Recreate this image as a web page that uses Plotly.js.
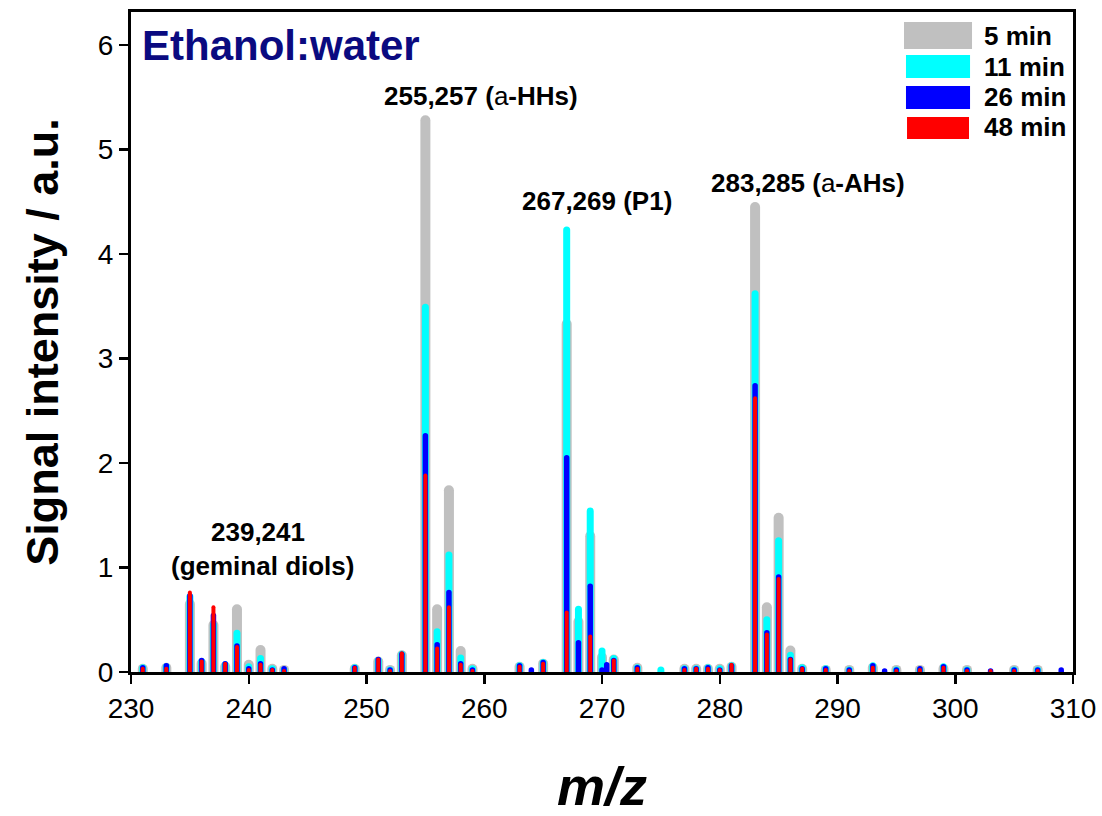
<!DOCTYPE html>
<html>
<head>
<meta charset="utf-8">
<script src="https://cdn.plot.ly/plotly-3.0.1.min.js"></script>
<style>
  html, body { margin: 0; padding: 0; background: #fff; }
  #chart { width: 1102px; height: 816px; }
  .js-line { stroke-linecap: round; }
</style>
</head>
<body>
<div id="chart"></div>
<script>
// m/z positions
const mz = [231, 233, 235, 236, 237, 238, 239, 240, 241, 242, 243,
            249, 251, 252, 253, 255, 256, 257, 258, 259,
            263, 264, 265, 267, 268, 269, 270, 270.4, 271, 273, 275,
            277, 278, 279, 280, 281, 283, 284, 285, 286, 287, 289,
            291, 293, 294, 295, 297, 299, 301, 303, 305, 307, 309];

// signal intensities (a.u.) per reaction time
const min5  = [0.03, 0.04, 0.65, 0.08, 0.45, 0.05, 0.60, 0.07, 0.21, 0.03, 0.02,
               0.03, 0.10, 0.02, 0.16, 5.28, 0.60, 1.74, 0.20, 0.03,
               0.05, 0, 0.08, 3.33, 0.48, 1.30, 0.14, 0, 0.12, 0.04, 0,
               0.03, 0.03, 0.03, 0.03, 0.05, 4.45, 0.62, 1.475, 0.205, 0.03, 0.02,
               0.02, 0.04, 0, 0.02, 0.02, 0.03, 0.02, 0, 0.02, 0.02, 0];
const min11 = [0.04, 0.05, 0.72, 0.10, 0.45, 0.07, 0.37, 0.05, 0.13, 0.03, 0.02,
               0.04, 0.11, 0.02, 0.17, 3.49, 0.385, 1.12, 0.135, 0.03,
               0.06, 0, 0.09, 4.23, 0.60, 1.54, 0.20, 0, 0.13, 0.04, 0.02,
               0.03, 0.03, 0.04, 0.03, 0.06, 3.62, 0.50, 1.255, 0.16, 0.04, 0.03,
               0.02, 0.06, 0, 0.02, 0.02, 0.05, 0.02, 0, 0.02, 0.02, 0];
const min26 = [0.04, 0.06, 0.73, 0.11, 0.54, 0.08, 0.25, 0.03, 0.08, 0.02, 0.03,
               0.04, 0.12, 0.02, 0.17, 2.26, 0.26, 0.76, 0.08, 0.02,
               0.06, 0.02, 0.09, 2.05, 0.28, 0.82, 0.02, 0.07, 0.11, 0.04, 0,
               0.03, 0.03, 0.04, 0.02, 0.06, 2.74, 0.375, 0.91, 0.12, 0.03, 0.03,
               0.02, 0.06, 0.01, 0.02, 0.03, 0.05, 0.02, 0.01, 0.02, 0.02, 0.02];
const min48 = [0.03, 0.03, 0.76, 0.10, 0.62, 0.08, 0.24, 0.02, 0.07, 0.02, 0.01,
               0.04, 0.12, 0.01, 0.18, 1.88, 0.225, 0.62, 0.07, 0.01,
               0.05, 0, 0.08, 0.57, 0, 0.34, 0, 0, 0.11, 0.03, 0,
               0.02, 0.03, 0.03, 0.02, 0.07, 2.62, 0.36, 0.89, 0.12, 0.03, 0.02,
               0.01, 0.04, 0, 0.01, 0.02, 0.04, 0.01, 0.01, 0.01, 0.01, 0];

const seriesNames  = ['5 min', '11 min', '26 min', '48 min'];
const seriesValues = [min5, min11, min26, min48];
const seriesColors = ['#c0c0c0', '#00ffff', '#0000ff', '#ff0000'];
const seriesWidths = [10, 7, 5.5, 4];

// peak labels
const peakLabels = [
  {x: 259.7, y: 5.51, text: '<b>255,257 (</b>a<b>-HHs)</b>'},
  {x: 269.6, y: 4.51, text: '<b>267,269 (P1)</b>'},
  {x: 287.5, y: 4.68, text: '<b>283,285 (</b>a<b>-AHs)</b>'},
  {x: 240.8, y: 1.34, text: '<b>239,241</b>'},
  {x: 241.2, y: 1.01, text: '<b>(geminal diols)</b>'}
];

const FONT = 'Liberation Sans, Arial, sans-serif';

const traces = seriesValues.map((vals, i) => {
  const xs = [], ys = [];
  mz.forEach((m, k) => {
    if (vals[k] > 0) { xs.push(m, m, null); ys.push(0, vals[k], null); }
  });
  return {
    type: 'scatter', mode: 'lines', name: seriesNames[i],
    x: xs, y: ys, connectgaps: false,
    line: {color: seriesColors[i], width: seriesWidths[i]},
    cliponaxis: false, showlegend: false, hoverinfo: 'skip'
  };
});

const annotations = peakLabels.map(p => ({
  x: p.x, y: p.y, xref: 'x', yref: 'y', text: p.text, showarrow: false,
  xanchor: 'center', yanchor: 'middle',
  font: {family: FONT, size: 26, color: '#000', weight: 'normal'}
}));

annotations.push({
  x: 230.75, y: 6.0, xref: 'x', yref: 'y', text: '<b>Ethanol:water</b>',
  showarrow: false, xanchor: 'left', yanchor: 'middle',
  font: {family: FONT, size: 42, color: '#0a0a80'}
});

// manual legend (swatches + labels)
const legBoxes = [[0.8206, 0.8928, 0.9439, 0.9848],
                  [0.8227, 0.8907, 0.9000, 0.9348],
                  [0.8227, 0.8907, 0.8530, 0.8879],
                  [0.8238, 0.8896, 0.8076, 0.8409]];
const legTextY = [0.9636, 0.9167, 0.8712, 0.8258];
const shapes = legBoxes.map((b, i) => ({
  type: 'rect', xref: 'paper', yref: 'paper',
  x0: b[0], x1: b[1], y0: b[2], y1: b[3],
  fillcolor: seriesColors[i], line: {width: 0}
}));
seriesNames.forEach((n, i) => annotations.push({
  x: 0.9034, y: legTextY[i], xref: 'paper', yref: 'paper',
  text: '<b>' + n + '</b>', showarrow: false, xanchor: 'left', yanchor: 'middle',
  font: {family: FONT, size: 26, color: '#000'}
}));

const layout = {
  width: 1102, height: 816,
  margin: {l: 131, r: 29, t: 12, b: 144},
  paper_bgcolor: '#fff', plot_bgcolor: '#fff',
  showlegend: false,
  xaxis: {
    range: [230, 310], tickmode: 'linear', tick0: 230, dtick: 10,
    showgrid: false, zeroline: false,
    showline: true, mirror: true, linecolor: '#000', linewidth: 3,
    ticks: 'outside', ticklen: 9, tickwidth: 2.5, tickcolor: '#000',
    tickfont: {family: FONT, size: 28, color: '#000'},
    title: {text: '<b><i>m/z</i></b>', font: {family: FONT, size: 54, color: '#000'}, standoff: 50}
  },
  yaxis: {
    range: [0, 6.316], tickmode: 'linear', tick0: 0, dtick: 1,
    showgrid: false, zeroline: false,
    showline: true, mirror: true, linecolor: '#000', linewidth: 3,
    ticks: 'outside', ticklen: 9, tickwidth: 2.5, tickcolor: '#000',
    tickfont: {family: FONT, size: 28, color: '#000'},
    title: {text: '<b>Signal intensity / a.u.</b>', font: {family: FONT, size: 45, color: '#000'}, standoff: 26}
  },
  annotations: annotations,
  shapes: shapes
};

Plotly.newPlot('chart', traces, layout, {displayModeBar: false, staticPlot: true});
</script>
</body>
</html>
